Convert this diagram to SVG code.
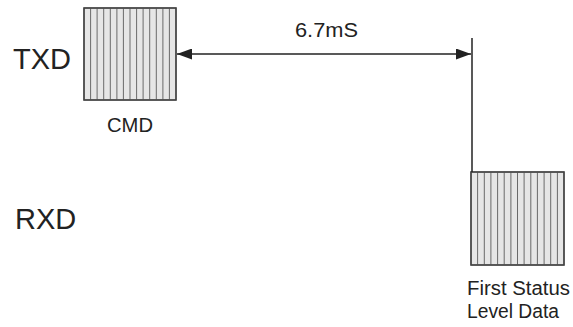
<svg xmlns="http://www.w3.org/2000/svg" width="573" height="327" viewBox="0 0 573 327">
<style>
text{font-family:"Liberation Sans",Arial,sans-serif;fill:#222}
.big{font-size:29px}
.sm{font-size:20px}
.box{fill:#e6e6e6;stroke:#444;stroke-width:1.3}
.st{stroke:#6a6a6a;stroke-width:1}
.ln{stroke:#222;stroke-width:1.5;fill:none}
</style>
<defs>
<marker id="ah" viewBox="0 0 15 11" refX="15" refY="5.5" markerWidth="15" markerHeight="11" markerUnits="userSpaceOnUse" orient="auto-start-reverse">
<path d="M0,0 L15,5.5 L0,11 Z" fill="#222"/>
</marker>
</defs>
<text class="big" x="13" y="69">TXD</text>
<text class="big" x="15" y="229">RXD</text>
<g id="cmd">
<rect class="box" x="84" y="8" width="92" height="92"/>
<g class="st">
<line x1="90.6" y1="8" x2="90.6" y2="100"/><line x1="97.1" y1="8" x2="97.1" y2="100"/><line x1="103.7" y1="8" x2="103.7" y2="100"/><line x1="110.3" y1="8" x2="110.3" y2="100"/><line x1="116.9" y1="8" x2="116.9" y2="100"/><line x1="123.4" y1="8" x2="123.4" y2="100"/><line x1="130" y1="8" x2="130" y2="100"/><line x1="136.6" y1="8" x2="136.6" y2="100"/><line x1="143.1" y1="8" x2="143.1" y2="100"/><line x1="149.7" y1="8" x2="149.7" y2="100"/><line x1="156.3" y1="8" x2="156.3" y2="100"/><line x1="162.9" y1="8" x2="162.9" y2="100"/><line x1="169.4" y1="8" x2="169.4" y2="100"/>
</g>
<rect x="84" y="8" width="92" height="92" fill="none" stroke="#444" stroke-width="1.3"/>
<text class="sm" x="107" y="132" textLength="46" lengthAdjust="spacingAndGlyphs">CMD</text>
</g>
<g id="status">
<rect class="box" x="471" y="172" width="93" height="93"/>
<g class="st">
<line x1="477.6" y1="172" x2="477.6" y2="265"/><line x1="484.3" y1="172" x2="484.3" y2="265"/><line x1="490.9" y1="172" x2="490.9" y2="265"/><line x1="497.6" y1="172" x2="497.6" y2="265"/><line x1="504.2" y1="172" x2="504.2" y2="265"/><line x1="510.9" y1="172" x2="510.9" y2="265"/><line x1="517.5" y1="172" x2="517.5" y2="265"/><line x1="524.1" y1="172" x2="524.1" y2="265"/><line x1="530.8" y1="172" x2="530.8" y2="265"/><line x1="537.4" y1="172" x2="537.4" y2="265"/><line x1="544.1" y1="172" x2="544.1" y2="265"/><line x1="550.7" y1="172" x2="550.7" y2="265"/><line x1="557.4" y1="172" x2="557.4" y2="265"/>
</g>
<rect x="471" y="172" width="93" height="93" fill="none" stroke="#444" stroke-width="1.3"/>
<text class="sm" x="467" y="295" textLength="103" lengthAdjust="spacingAndGlyphs">First Status</text>
<text class="sm" x="467" y="318" textLength="92" lengthAdjust="spacingAndGlyphs">Level Data</text>
</g>
<g id="connectors">
<line class="ln" x1="472" y1="38" x2="472" y2="172"/>
<line class="ln" x1="177" y1="54" x2="471" y2="54" marker-start="url(#ah)" marker-end="url(#ah)"/>
<text class="sm" x="295" y="37" textLength="63" lengthAdjust="spacingAndGlyphs">6.7mS</text>
</g>
</svg>
